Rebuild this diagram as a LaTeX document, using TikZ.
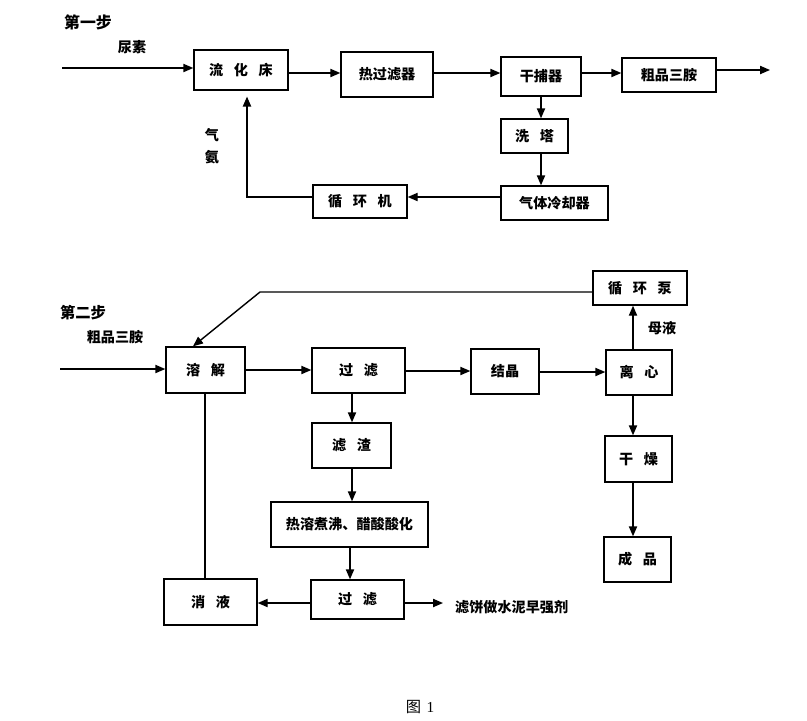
\documentclass[tikz,border=0pt]{standalone}
\usepackage{fontspec}
\setmainfont{Noto Sans CJK SC}
\newfontfamily\capfont{Liberation Serif}
\usetikzlibrary{arrows.meta}
\newcommand{\gp}{\hspace{0.75em}}
\tikzset{
  bx/.style 2 args={draw, line width=1.2pt, minimum width=#1*0.85pt, minimum height=#2*0.85pt, inner sep=0pt, font=\fontsize{12}{14}\selectfont\bfseries},
  lab/.style={inner sep=0pt, font=\fontsize{12}{14}\selectfont\bfseries},
  ar/.style={line width=1.2pt, -{Triangle[length=8.5pt,width=7pt]}},
  ln/.style={line width=1.2pt}
}
\begin{document}
\begin{tikzpicture}[x=0.85pt,y=-0.85pt]
\useasboundingbox (0,0) rectangle (807,720);
% ---------- step 1
\node[lab, font=\fontsize{13.5}{15}\selectfont\bfseries] (s1) at (88,22) {第一步};
\node[lab] (ns) at (132,47) {尿素};
\node[bx={94}{40}] (lhc) at (241,70) {流\gp 化\gp 床};
\node[bx={92}{45}] (rgl) at (387,74.5) {热过滤器};
\node[bx={80}{39}] (gbq) at (541,76.5) {干捕器};
\node[bx={94}{34}] (cp) at (669,75) {粗品三胺};
\node[bx={67}{34}] (xt) at (534.5,136) {洗\gp 塔};
\node[bx={107}{34}] (qt) at (554.5,203) {气体冷却器};
\node[bx={94}{33}] (xhj) at (360,201.5) {循\gp 环\gp 机};
\node[lab] (q1) at (212,135) {气};
\node[lab] (q2) at (212,157) {氨};
\coordinate (in1) at (62,68);
\coordinate (out1) at (770,70);
\coordinate (c1) at (247,197);

\draw[ar] (in1) -- (lhc.west |- in1);
\draw[ar] (lhc.east |- 0,73) -- (rgl.west |- 0,73);
\draw[ar] (rgl.east |- 0,73) -- (gbq.west |- 0,73);
\draw[ar] (gbq.east |- 0,73) -- (cp.west |- 0,73);
\draw[ar] (cp.east |- out1) -- (out1);
\draw[ar] (gbq.south -| 541,0) -- (xt.north -| 541,0);
\draw[ar] (xt.south -| 541,0) -- (qt.north -| 541,0);
\draw[ar] (qt.west |- c1) -- (xhj.east |- c1);
\draw[ar] (xhj.west |- c1) -- (c1) -- ([yshift=-5pt]lhc.south -| c1);
% ---------- step 2
\node[lab, font=\fontsize{13}{15}\selectfont\bfseries] (s2) at (83,313) {第二步};
\node[lab] (cpl) at (115,337) {粗品三胺};
\node[bx={79}{46}] (rj) at (205.5,370) {溶\gp 解};
\node[bx={93}{45}] (gl1) at (358.5,370.5) {过\gp 滤};
\node[bx={68}{45}] (jj) at (505,371.5) {结晶};
\node[bx={66}{45}] (lx) at (639,372.5) {离\gp 心};
\node[bx={94}{34}] (xhb) at (640,288) {循\gp 环\gp 泵};
\node[bx={67}{46}] (gz) at (638.5,459) {干\gp 燥};
\node[bx={67}{45}] (cp2) at (637.5,559.5) {成\gp 品};
\node[bx={79}{45}] (lz) at (351.5,445.5) {滤\gp 渣};
\node[bx={157}{45}] (rr) at (349.5,524.5) {热溶煮沸、醋酸酸化};
\node[bx={93}{39}] (gl2) at (357.5,599.5) {过\gp 滤};
\node[bx={93}{46}] (xy) at (210.5,602) {消\gp 液};
\node[lab] (my) at (662,328) {母液};
\node[lab, anchor=west] (lb) at (455,607) {滤饼做水泥早强剂};
\coordinate (in2) at (60,369);
\coordinate (c2) at (260,292);
\coordinate (out2) at (443,603);

\draw[ar] (in2) -- (rj.west |- in2);
\draw[ar] (rj.east |- 0,370) -- (gl1.west |- 0,370);
\draw[ar] (gl1.east |- 0,371) -- (jj.west |- 0,371);
\draw[ar] (jj.east |- 0,372) -- (lx.west |- 0,372);
\draw[ar] (lx.north -| 633,0) -- (xhb.south -| 633,0);
\draw[ar] (xhb.west |- c2) -- (c2) -- (rj.north -| 193,0);
\draw[ar] (lx.south -| 633,0) -- (gz.north -| 633,0);
\draw[ar] (gz.south -| 633,0) -- (cp2.north -| 633,0);
\draw[ar] (gl1.south -| 352,0) -- (lz.north -| 352,0);
\draw[ar] (lz.south -| 352,0) -- (rr.north -| 352,0);
\draw[ar] (rr.south -| 350,0) -- (gl2.north -| 350,0);
\draw[ar] (gl2.west |- out2) -- (xy.east |- out2);
\draw[ar] (gl2.east |- out2) -- (out2);
\draw[ln] (rj.south -| 205,0) -- (xy.north -| 205,0);
% caption
\node[inner sep=0pt, font=\fontsize{13}{15}\selectfont] (cap) at (420,707) {图\hspace{0.35em}{\capfont 1}};
\end{tikzpicture}
\end{document}
